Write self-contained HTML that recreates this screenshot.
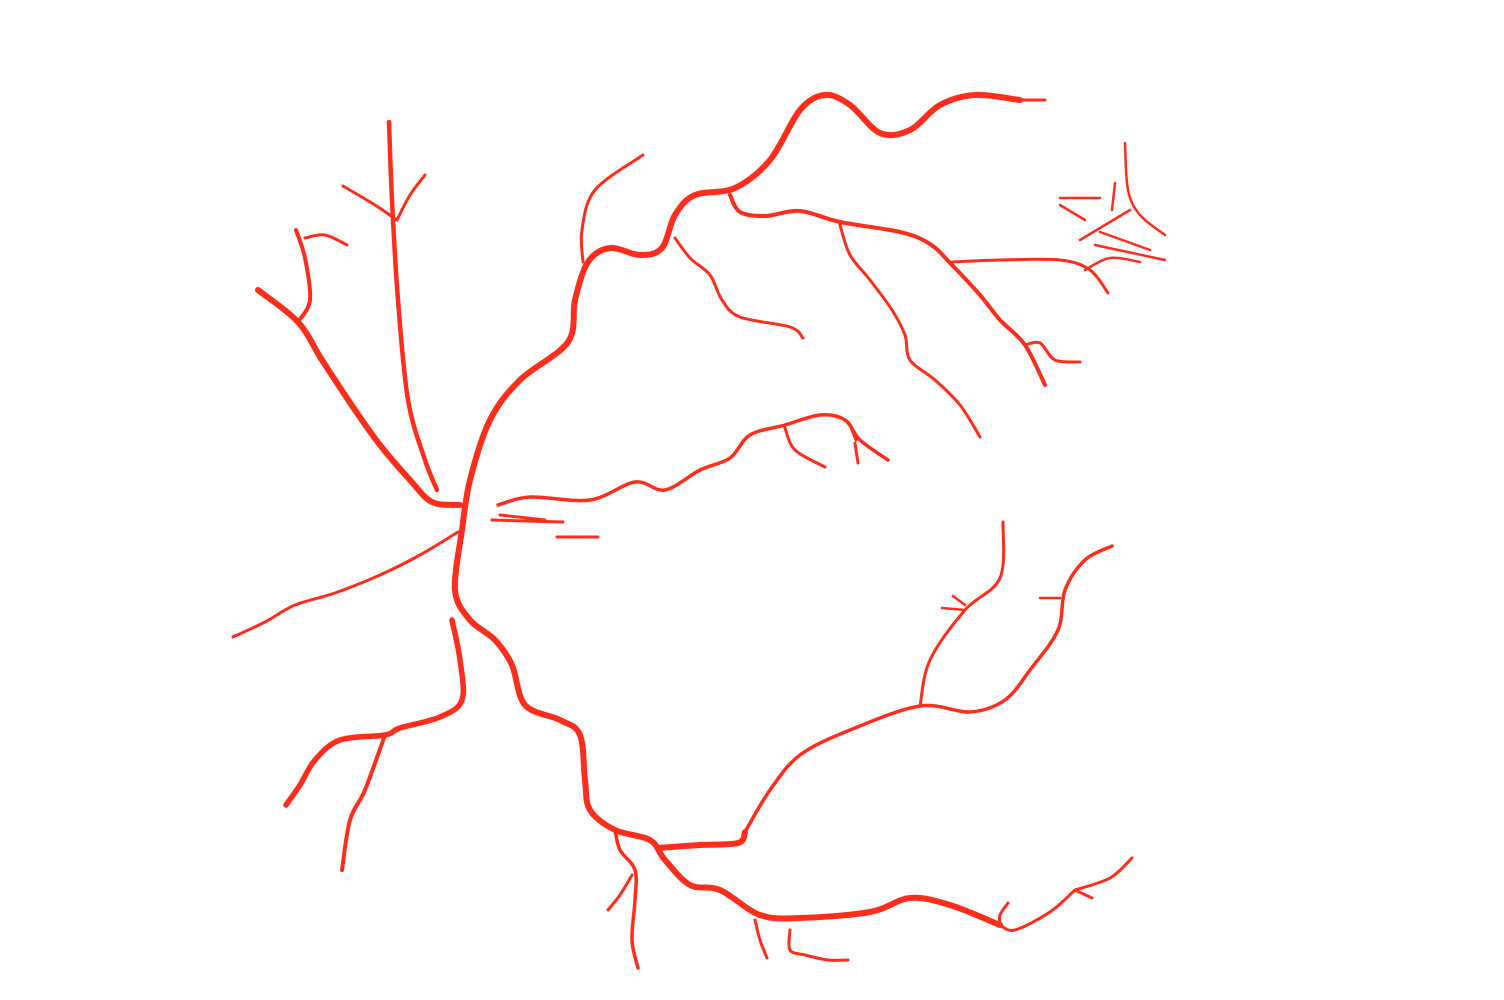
<!DOCTYPE html>
<html><head><meta charset="utf-8"><style>
html,body{margin:0;padding:0;background:#fff;width:1504px;height:1000px;overflow:hidden}
svg{display:block}
</style></head><body>
<svg id="c" width="1504" height="1000" viewBox="0 0 1504 1000"></svg>
<script>
const vesselNames = ["top-trunk","top-trunk-tip","lower-trunk","lower-trunk-tail","lower-branch-thick","lower-right-branch","lower-right-up-branch","upper-left-trunk","upper-left-sub","upper-left-twig","vertical-vessel","vertical-twig-a","vertical-twig-b","left-thin","lower-left-trunk","lower-left-branch","middle-vessel","middle-twig-a","middle-twig-b","middle-twig-c","short-a","short-b","short-c","top-branch-up","top-branch-mid","top-right-vessel","top-right-sub","top-right-horizontal","cluster-a","cluster-b","cluster-c","cluster-d","cluster-e","cluster-f","cluster-g","cluster-h","hook","bottom-twig-a","bottom-twig-b","bottom-twig-c","bottom-twig-d","bottom-twig-e","bottom-twig-f","bottom-twig-g","tick-a","tick-b","tick-c"];
const vesselWidths = [6,3,6,3,6,3.5,3,6,4,3,4.5,3,3,3,5.5,4,3.5,3,3,3,3,3,3,3,3,4,3,3,2.5,2.5,2.5,2.5,2.5,2.5,2.5,2.5,3,3.5,3,3,3,3,3,3,2.5,2.5,2.5];
const vesselPoints = [
 [[462,530],[470,480],[490,420],[520,380],[568,342],[575,300],[588,262],[610,248],[640,255],[662,248],[675,215],[695,195],[735,188],[770,160],[800,110],[825,95],[850,105],[880,133],[910,130],[940,105],[975,95],[1020,100]],
 [[1020,100],[1045,100]],
 [[462,530],[455,590],[470,620],[495,640],[512,665],[525,705],[560,720],[580,735],[585,780],[590,810],[615,830],[650,840],[665,860],[690,885],[720,890],[760,915],[800,918],[870,912],[910,898],[950,905],[1000,925]],
 [[1000,925],[1015,930],[1050,912],[1075,890]],
 [[658,848],[700,845],[738,843],[745,832]],
 [[745,832],[770,790],[800,755],[850,730],[920,706],[970,712],[1005,700],[1030,670],[1058,630],[1065,590],[1085,560],[1112,546]],
 [[920,706],[930,660],[965,610],[1000,578],[1003,522]],
 [[460,505],[432,502],[410,480],[380,445],[355,410],[322,360],[298,322],[258,290]],
 [[298,322],[310,300],[305,258],[296,230]],
 [[305,238],[325,235],[347,245]],
 [[437,490],[425,460],[408,400],[398,300],[392,200],[389,122]],
 [[397,220],[375,205],[343,186]],
 [[397,220],[410,195],[425,175]],
 [[458,532],[420,555],[380,575],[335,593],[295,605],[265,622],[233,637]],
 [[452,620],[460,660],[462,700],[440,717],[400,728],[385,735],[340,740],[315,760],[300,785],[286,805]],
 [[385,735],[365,790],[350,820],[342,870]],
 [[498,505],[530,497],[590,500],[635,482],[665,490],[700,470],[730,458],[750,435],[785,425],[820,415],[845,420],[860,440],[888,460]],
 [[785,428],[795,450],[825,467]],
 [[850,425],[856,440]],
 [[855,443],[858,463]],
 [[492,520],[563,522]],
 [[500,515],[545,520]],
 [[557,537],[598,537]],
 [[583,262],[582,230],[595,190],[643,155]],
 [[675,238],[690,258],[710,275],[722,300],[740,317],[790,327],[803,338]],
 [[730,195],[740,212],[765,216],[800,211],[840,222],[900,232],[930,244],[952,265],[980,295],[1000,320],[1025,345],[1045,385]],
 [[840,225],[850,255],[870,280],[892,310],[905,335],[910,360],[935,380],[960,405],[980,437]],
 [[952,262],[1000,260],[1060,260],[1090,270],[1108,293]],
 [[1125,143],[1128,190],[1140,215],[1165,235]],
 [[1060,198],[1100,198]],
 [[1060,205],[1085,220]],
 [[1080,240],[1130,210]],
 [[1095,245],[1165,260]],
 [[1085,270],[1110,258],[1140,262]],
 [[1115,183],[1112,210]],
 [[1100,232],[1150,250]],
 [[1025,345],[1040,343],[1055,360],[1080,362]],
 [[615,830],[620,850],[635,870],[635,900],[632,940],[638,968]],
 [[632,875],[620,895],[608,910]],
 [[755,920],[760,940],[767,958]],
 [[790,930],[790,950],[805,955],[828,960],[848,960]],
 [[1000,925],[1000,915],[1008,903]],
 [[1075,890],[1092,898]],
 [[1075,890],[1110,878],[1132,858]],
 [[1060,598],[1040,598]],
 [[965,610],[942,608]],
 [[965,605],[953,596]]
];
const svg = document.getElementById('c');
const NS = 'http://www.w3.org/2000/svg';
function smoothPath(p){
  if(p.length<3) return 'M'+p.map(q=>q.join(',')).join(' L');
  let d='M'+p[0][0]+','+p[0][1];
  for(let i=0;i<p.length-1;i++){
    const p0=p[i-1]||p[i], p1=p[i], p2=p[i+1], p3=p[i+2]||p2;
    const c1=[p1[0]+(p2[0]-p0[0])/6, p1[1]+(p2[1]-p0[1])/6];
    const c2=[p2[0]-(p3[0]-p1[0])/6, p2[1]-(p3[1]-p1[1])/6];
    d+=` C${c1[0]},${c1[1]} ${c2[0]},${c2[1]} ${p2[0]},${p2[1]}`;
  }
  return d;
}
vesselPoints.forEach((pts,i)=>{
  const el=document.createElementNS(NS,'path');
  el.setAttribute('d',smoothPath(pts));
  el.setAttribute('fill','none');
  el.setAttribute('stroke','#ff2d1c');
  el.setAttribute('stroke-width',vesselWidths[i]);
  el.setAttribute('stroke-linecap','round');
  el.setAttribute('stroke-linejoin','round');
  
  
  svg.appendChild(el);
});
</script>
</body></html>
